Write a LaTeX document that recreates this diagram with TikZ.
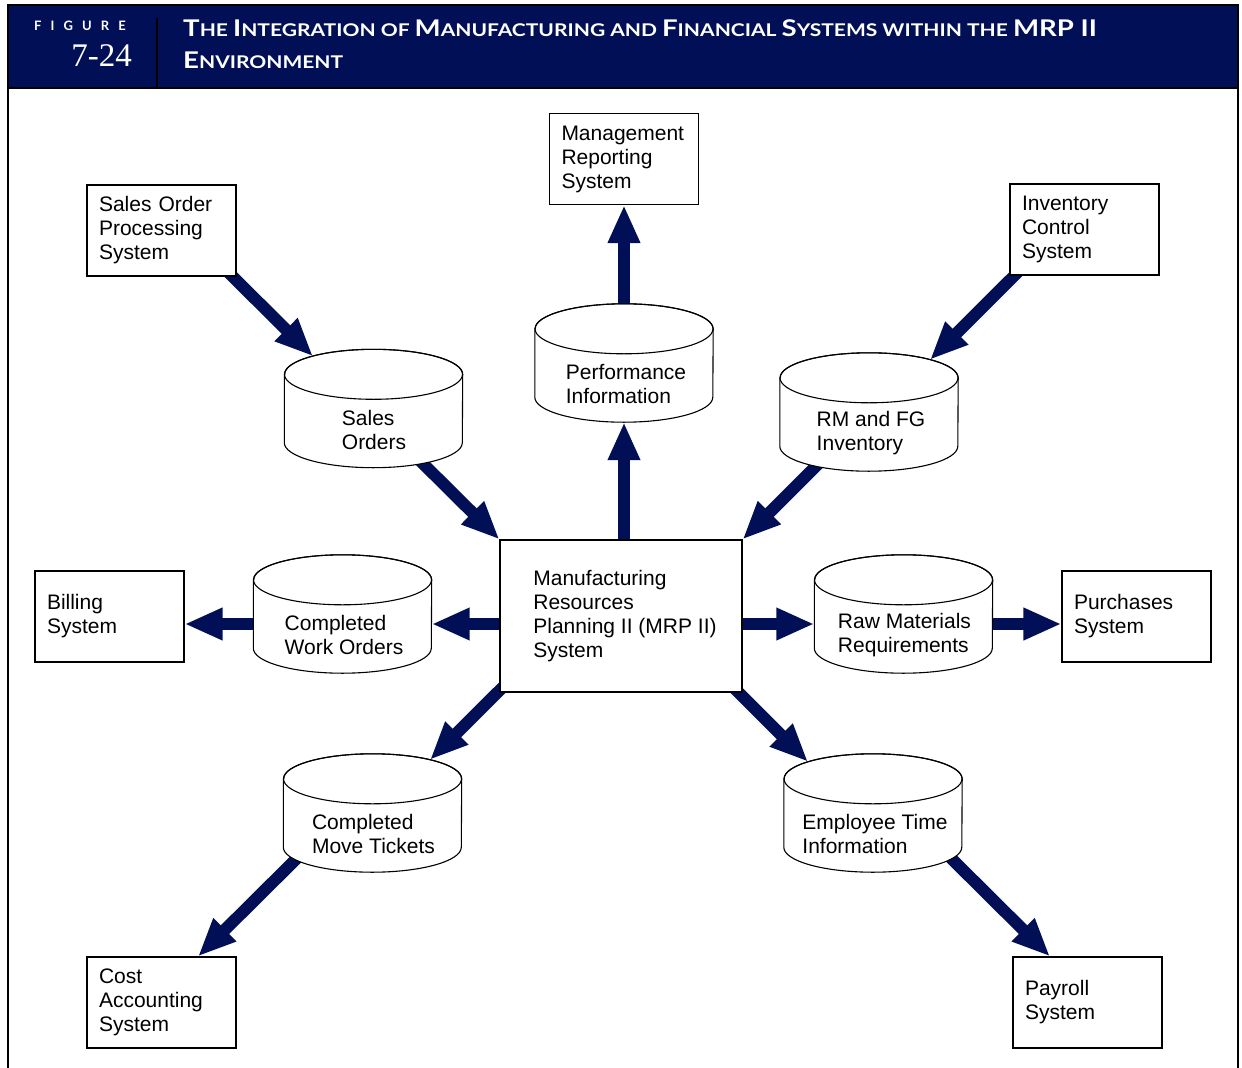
\documentclass[tikz,border=0pt]{standalone}
\usepackage{graphicx}
\usepackage{fontspec}
\setmainfont{Liberation Sans}
\newfontfamily\titlefont{Lato}
\newfontfamily\figfont{Lato}[LetterSpace=70]
\newfontfamily\numfont{Liberation Serif}
\usetikzlibrary{arrows.meta,calc,backgrounds}
\definecolor{mynavy}{RGB}{1,16,86}
\newcommand\bigc{\fontsize{23}{23}\selectfont}
\newcommand\smc{\fontsize{17.5}{17.5}\selectfont}
\newcommand\drawcyl[1]{%
  \draw[line width=1.1pt, fill=white]
    ($(#1.north west)+(0,25)$) -- ($(#1.south west)+(0,-25)$)
    arc[start angle=180, end angle=360, x radius=89pt, y radius=25pt]
    -- ($(#1.north east)+(0,25)$)
    arc[start angle=0, end angle=180, x radius=89pt, y radius=25pt] -- cycle;
  \draw[line width=1.1pt] ($(#1.north)+(0,25)$) ellipse [x radius=89pt, y radius=25pt];
}
\begin{document}
\begin{tikzpicture}[x=1pt, y=-1pt,
  every node/.style={font=\fontsize{21}{24}\selectfont},
  box/.style={draw, line width=1.1pt, fill=white, minimum width=149pt,
    minimum height=91pt, text width=125pt, inner xsep=12pt, inner ysep=0pt, align=left},
  cylbody/.style={minimum width=178pt, minimum height=118pt, inner sep=0pt},
  cyltext/.style={align=left, inner sep=0pt},
  flow/.style={line width=12pt, draw=mynavy, -{Triangle[length=38pt, width=30pt]}},
  frame/.style={line width=2.5pt, draw=black}
]
\useasboundingbox (0,0) rectangle (1242,1068);

% header
\fill[mynavy] (8,5) rectangle (1238,88);
\draw[frame] (8,1068) -- (8,5) -- (1238,5) -- (1238,1068);
\draw[frame] (8,88) -- (1238,88);
\draw[frame] (157,18) -- (157,88);
\node[anchor=base west, text=white, inner sep=0pt, font=\figfont\bfseries\fontsize{13}{13}\selectfont] (fig) at (34,30) {FIGURE};
\node[anchor=base east, text=white, inner sep=0pt, font=\numfont\fontsize{33}{33}\selectfont] (num) at (132,66) {7-24};
\node[anchor=base west, text=white, inner sep=0pt, font=\titlefont\bfseries] (title1) at (183,36)
  {\scalebox{1.2}[1]{\bigc T\smc HE \bigc I\smc NTEGRATION OF \bigc M\smc ANUFACTURING AND \bigc F\smc INANCIAL \bigc S\smc YSTEMS WITHIN THE \bigc MRP II}};
\node[anchor=base west, text=white, inner sep=0pt, font=\titlefont\bfseries] (title2) at (183,68)
  {\scalebox{1.2}[1]{\bigc E\smc NVIRONMENT}};

% boxes
\node[box] (mrs) at (624,159) {Management\\Reporting\\System};
\node[box] (sop) at (161.5,230.5) {Sales Order\\Processing\\System};
\node[box] (ics) at (1084.5,229.5) {Inventory\\Control\\System};
\node[box] (bil) at (109.5,616.5) {Billing\\System};
\node[box] (pur) at (1136.5,616.5) {Purchases\\System};
\node[box] (cas) at (161.5,1002.5) {Cost\\Accounting\\System};
\node[box] (pay) at (1087.5,1002.5) {Payroll\\System};
\node[draw, line width=1.1pt, fill=white, minimum width=242pt, minimum height=152pt, align=left, inner sep=0pt]
  (mrp) at (621,616) {\hspace*{8pt}Manufacturing\\\hspace*{8pt}Resources\\\hspace*{8pt}Planning II (MRP II)\\\hspace*{8pt}System};

% cylinders
\node[cylbody] (pi) at (624,363) {};   \drawcyl{pi}
\node[cyltext] (pi-t) at (626,384) {Performance\\Information};
\node[cylbody] (so) at (373.5,408.5) {}; \drawcyl{so}
\node[cyltext] (so-t) at (374,430) {Sales\\Orders};
\node[cylbody] (rm) at (869,412) {};   \drawcyl{rm}
\node[cyltext] (rm-t) at (871,433) {RM and FG\\Inventory};
\node[cylbody] (cwo) at (342.5,614) {}; \drawcyl{cwo}
\node[cyltext] (cwo-t) at (344,635) {Completed\\Work Orders};
\node[cylbody] (rmr) at (903.5,614) {}; \drawcyl{rmr}
\node[cyltext] (rmr-t) at (904.5,635) {Raw Materials\\Requirements};
\node[cylbody] (cmt) at (372.5,813) {}; \drawcyl{cmt}
\node[cyltext] (cmt-t) at (373.5,834) {Completed\\Move Tickets};
\node[cylbody] (eti) at (873,813) {};  \drawcyl{eti}
\node[cyltext] (eti-t) at (875,834) {Employee Time\\Information};

% connectors
\begin{scope}[on background layer]
\draw[flow] ($(sop.south east)+(-10,-6)$) -- ($(so.north)+(-60.5,7)$);
\draw[flow] ($(so.south)+(36.5,-17)$) -- (mrp.north west);
\draw[flow] ($(ics.south west)+(15,-10)$) -- ($(rm.north)+(61,7)$);
\draw[flow] ($(rm.south)+(-47,-11)$) -- (mrp.north east);
\draw[flow] (pi.south |- mrp.center) -- (pi.south);
\draw[flow] (pi.center) -- (mrs.south);
\draw[flow] ($(mrp.west)+(20,8)$) -- ($(cwo.east)+(0,10)$);
\draw[flow] ($(cwo.center)+(0,10)$) -- ($(bil.east)+(0,7.5)$);
\draw[flow] ($(mrp.east)+(-20,8)$) -- ($(rmr.west)+(0,10)$);
\draw[flow] ($(rmr.center)+(0,10)$) -- ($(pur.west)+(0,7.5)$);
\draw[flow] ($(mrp.south west)+(10,-12)$) -- ($(cmt.north)+(57.5,6)$);
\draw[flow] ($(cmt.south)+(-67.5,-22)$) -- ($(cas.north)+(36.5,0)$);
\draw[flow] ($(mrp.south east)+(-10,-6)$) -- ($(eti.north)+(-65,8)$);
\draw[flow] ($(eti.south)+(70,-22)$) -- ($(pay.north)+(-37.5,0)$);
\end{scope}
\end{tikzpicture}
\end{document}
